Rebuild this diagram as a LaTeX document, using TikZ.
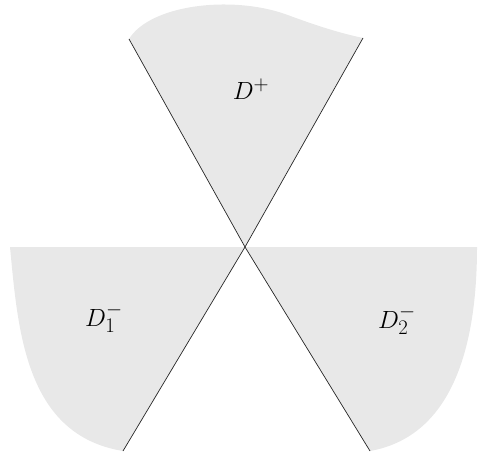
\documentclass[tikz,border=0pt]{standalone}
\begin{document}
\begin{tikzpicture}[x=1pt,y=-1pt,
  region/.style={fill=black!9,draw=none},
  edge/.style={draw=black!85,line width=0.7pt},
  lbl/.style={font=\fontsize{31}{36}\selectfont}]
\useasboundingbox (0,0) rectangle (478,457);
\coordinate (O) at (245,247);
\coordinate (TL) at (129,39);
\coordinate (TR) at (363,38);
\coordinate (BL) at (123,451);
\coordinate (BR) at (370,451);
\coordinate (L) at (10,247);
\coordinate (R) at (477,247);
% regions
\path[region] (TL) -- (O) -- (TR) .. controls (340,33) and (320,27) .. (285,14)
  .. controls (230,-5) and (150,5) .. (TL) -- cycle;
\path[region] (L) -- (O) -- (BL) .. controls (25,435) and (18,330) .. (L) -- cycle;
\path[region] (O) -- (R) .. controls (477,330) and (460,435) .. (BR) -- cycle;
% lines
\draw[edge] (TL) -- (O) -- (BR);
\draw[edge] (TR) -- (O) -- (BL);
% labels
\node[lbl] (dp) at (251,89) {$D^+$};
\node[lbl] (d1) at (104,318) {$D_1^-$};
\node[lbl] (d2) at (397,320) {$D_2^-$};
\end{tikzpicture}
\end{document}
